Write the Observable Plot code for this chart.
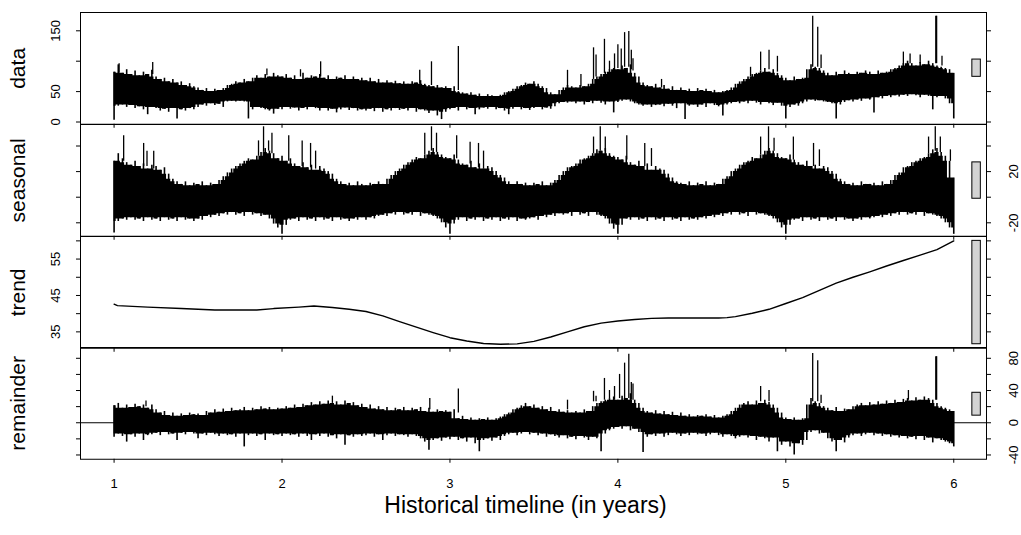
<!DOCTYPE html>
<html><head><meta charset="utf-8">
<script src="https://cdn.jsdelivr.net/npm/d3@7"></script>
<script src="https://cdn.jsdelivr.net/npm/@observablehq/plot@0.6"></script>
<style>
body{margin:0;background:#fff;}
#chart{position:relative;width:1021px;height:535px;overflow:hidden;font-family:"Liberation Sans",Arial,Helvetica,sans-serif;}
#chart svg{position:absolute;left:0;}
</style></head><body><div id="chart"></div>
<script>
// time grid: years 1..6 sampled every 0.025 year (201 samples)
const tStart = 1, tStep = 0.025;
const years = [1, 2, 3, 4, 5, 6];
const xLabel = "Historical timeline (in years)";

// ---- data (observed series): upper / lower envelope per sample ----
const dataHi = [
 82,94,80,86,78,84,76,82,78,85,
 74,70,72,66,70,64,66,60,63,58,
 56,52,55,50,54,52,55,60,62,66,
 64,70,66,72,76,72,78,74,80,76,
 74,78,72,76,70,80,72,76,74,78,
 72,76,70,74,72,76,70,74,70,72,
 68,72,66,70,64,68,64,67,63,66,
 62,66,64,68,62,60,58,60,56,58,
 55,58,50,48,46,48,44,46,42,45,
 43,42,44,48,50,54,58,60,64,62,
 66,62,58,55,48,45,52,56,60,58,
 56,60,58,62,70,74,78,82,86,88,
 86,92,88,94,80,74,64,60,58,62,
 56,60,54,58,52,56,52,54,50,55,
 52,54,50,52,48,50,52,56,62,66,
 70,74,78,80,84,88,82,86,80,76,
 72,68,74,70,72,86,94,90,88,84,
 80,76,82,78,84,80,78,82,80,84,
 82,78,84,80,82,86,88,92,96,100,
 96,92,98,94,100,96,92,90,88,86,
 80];
const dataLo = [
 3,26,28,24,27,22,25,20,12,24,
 22,18,21,16,22,5,20,18,22,20,
 24,28,26,30,27,29,24,33,34,33,
 34,33,5,20,24,22,20,18,13,21,
 20,24,21,23,18,22,20,24,22,18,
 22,18,21,15,20,23,19,22,18,20,
 18,21,17,22,16,20,18,22,19,21,
 18,22,16,20,18,14,18,10,4,16,
 20,22,18,24,20,22,12,20,23,21,
 24,20,22,18,12,21,24,20,22,19,
 22,24,20,23,21,25,30,32,31,33,
 30,33,28,32,30,34,31,28,33,15,
 32,34,36,33,30,28,26,28,24,27,
 28,25,29,26,22,30,4,26,28,24,
 28,24,30,27,25,10,28,30,32,30,
 33,30,34,31,28,32,30,27,31,26,
 5,24,28,26,30,33,36,34,35,33,
 32,30,5,28,32,35,33,36,34,38,
 36,15,40,38,42,40,43,41,44,42,
 45,43,40,44,42,20,40,42,38,30,
 5];
// tall single spikes: [year, from, to]
const dataSpikes = [
 [1.03,80,96],[1.23,78,98],[1.91,76,87],[2.11,74,86],[2.23,74,99],[2.82,62,85],
 [2.89,60,99],[3.05,52,124],[3.70,55,85],[3.78,58,78],[3.855,70,122],[3.87,74,110],
 [3.92,80,136],[3.95,84,100],[3.98,84,112],[4.00,88,127],[4.02,86,120],[4.04,90,147],
 [4.065,90,149],[4.08,86,118],[4.09,84,104],[4.26,56,70],[4.79,74,90],[4.85,84,115],
 [4.90,86,118],[4.95,82,108],[5.16,90,174],[5.19,90,156],[5.21,88,110],[5.70,92,115],
 [5.74,96,112],[5.80,96,110],[5.893,96,174],[5.898,96,174],[5.93,92,108]];

// ---- seasonal ----
const seasonalHi = [
 28,34,30,27,25,28,24,26,22,25,
 24,21,23,18,14,12,10,12,9,11,
 10,12,9,11,10,13,16,19,22,24,
 26,28,30,29,32,35,38,36,34,30,
 32,28,30,26,24,27,23,25,21,24,
 22,20,18,14,12,10,11,9,12,10,
 9,11,10,12,10,14,17,20,22,25,
 27,29,31,30,33,36,38,35,33,31,
 30,33,29,26,25,28,23,26,22,24,
 23,20,17,15,12,10,12,10,11,9,
 11,10,12,9,11,13,17,20,23,24,
 26,29,30,32,34,37,36,38,34,32,
 31,29,32,27,25,28,24,26,21,24,
 22,21,18,15,12,11,10,12,9,11,
 10,12,9,11,10,14,16,20,22,25,
 27,28,31,30,33,36,38,36,34,31,
 30,33,29,27,25,28,24,25,22,24,
 23,20,18,14,12,10,11,9,12,10,
 10,11,9,12,10,13,17,19,23,24,
 27,28,30,31,34,37,38,35,32,28,
 15];
const seasonalLo = [
 -28,-19,-17,-18,-16,-18,-17,-19,-16,-18,
 -17,-19,-16,-18,-17,-19,-16,-18,-17,-19,
 -17,-18,-15,-16,-14,-15,-13,-14,-12,-14,
 -13,-15,-12,-14,-13,-15,-14,-17,-21,-24,
 -29,-22,-18,-17,-19,-16,-18,-17,-19,-16,
 -18,-17,-19,-16,-18,-17,-19,-17,-18,-16,
 -18,-16,-17,-15,-14,-15,-13,-14,-12,-14,
 -13,-14,-12,-15,-13,-14,-15,-17,-20,-24,
 -29,-21,-18,-16,-19,-17,-18,-16,-19,-17,
 -18,-16,-19,-17,-18,-16,-19,-17,-18,-17,
 -16,-18,-15,-16,-14,-15,-13,-14,-13,-15,
 -12,-14,-13,-15,-12,-14,-15,-17,-21,-25,
 -29,-22,-17,-18,-16,-18,-17,-19,-16,-18,
 -17,-19,-16,-18,-17,-19,-16,-18,-17,-18,
 -16,-17,-15,-16,-14,-15,-13,-14,-12,-14,
 -13,-15,-12,-14,-13,-14,-15,-17,-20,-24,
 -29,-22,-18,-17,-19,-16,-18,-17,-19,-16,
 -18,-17,-19,-16,-18,-17,-19,-17,-18,-16,
 -17,-16,-15,-16,-14,-15,-13,-14,-12,-14,
 -13,-14,-12,-15,-13,-14,-15,-17,-20,-24,
 -29];
const seasonalSpikes = [
 [1.057,28,48],[1.176,24,42],[1.196,24,36],[1.236,22,36],[1.86,32,44],[1.89,35,55],
 [1.92,36,44],[1.94,34,50],[2.04,28,48],[2.12,24,44],[2.17,23,42],[2.20,22,36],
 [2.85,33,50],[2.89,36,55],[2.92,35,50],[3.04,30,48],[3.12,26,43],[3.17,23,42],
 [3.20,22,36],[3.855,34,47],[3.895,36,55],[3.925,36,47],[4.053,29,48],[4.16,24,42],
 [4.20,24,38],[4.85,33,47],[4.897,36,55],[4.93,36,46],[5.045,29,47],[5.165,24,42],
 [5.20,24,37],[5.85,34,47],[5.89,36,55],[5.92,35,47],[5.98,28,37]];

// ---- trend ----
const trendT = [1.0,1.02,1.2,1.4,1.6,1.85,1.95,2.1,2.19,2.3,2.4,2.5,2.6,2.7,2.8,2.9,3.0,3.1,3.2,3.3,3.4,
 3.5,3.6,3.7,3.8,3.9,4.0,4.1,4.2,4.3,4.4,4.5,4.6,4.65,4.7,4.8,4.9,5.0,5.1,5.2,5.3,5.4,5.5,5.6,5.7,5.8,5.9,6.0];
const trendV = [42.6,42.2,41.8,41.4,41.0,41.0,41.4,41.8,42.1,41.7,41.2,40.6,39.4,37.8,36.3,34.8,33.4,32.5,31.8,31.6,31.7,
 32.4,33.6,35.0,36.4,37.4,38.0,38.4,38.7,38.8,38.8,38.8,38.8,38.9,39.2,40.1,41.2,42.8,44.4,46.4,48.4,50.0,51.5,53.1,54.6,56.1,57.6,60.0];

// ---- remainder ----
const remainderHi = [
 21,24,18,22,19,23,20,22,18,22,
 16,12,14,9,12,8,11,9,12,10,
 11,9,14,12,16,13,17,14,18,15,
 16,19,15,18,16,20,17,19,16,18,
 17,20,18,22,19,23,21,25,22,26,
 23,27,24,26,22,27,24,25,21,23,
 19,22,17,20,16,19,15,18,16,19,
 15,18,16,19,14,18,13,16,14,15,
 13,16,5,8,4,6,3,5,4,6,
 3,5,7,10,12,16,18,21,24,20,
 22,18,20,16,19,14,16,13,15,12,
 14,12,16,14,20,24,26,28,30,32,
 28,33,30,36,28,24,18,14,12,15,
 11,14,10,13,9,12,8,10,7,9,
 8,10,7,9,6,8,10,14,18,22,
 24,26,22,27,24,28,25,22,18,12,
 6,4,6,3,5,22,30,26,24,20,
 18,15,19,14,17,16,20,22,24,21,
 25,22,26,23,27,24,28,25,29,30,
 27,31,28,32,30,28,24,20,18,16,
 14];
const remainderLo = [
 -18,-14,-17,-24,-15,-18,-14,-22,-16,-15,
 -13,-16,-12,-15,-14,-22,-13,-15,-12,-14,
 -20,-14,-16,-13,-15,-17,-14,-16,-15,-18,
 -14,-30,-16,-14,-17,-15,-22,-14,-16,-15,
 -17,-14,-16,-15,-18,-14,-17,-22,-15,-17,
 -14,-18,-16,-20,-15,-28,-16,-18,-15,-17,
 -16,-14,-18,-15,-22,-16,-14,-17,-15,-16,
 -18,-15,-17,-20,-24,-34,-22,-20,-23,-19,
 -21,-18,-22,-20,-24,-19,-26,-36,-22,-20,
 -23,-19,-22,-17,-15,-13,-16,-14,-12,-15,
 -13,-16,-14,-18,-15,-17,-19,-16,-20,-18,
 -21,-17,-19,-22,-18,-20,-36,-14,-10,-8,
 -6,-8,-5,-10,-8,-12,-37,-18,-15,-17,
 -14,-18,-16,-13,-15,-17,-14,-16,-13,-15,
 -14,-17,-15,-13,-16,-18,-15,-17,-20,-18,
 -16,-19,-17,-22,-18,-20,-24,-19,-36,-28,
 -24,-30,-40,-26,-28,-22,-12,-10,-14,-13,
 -20,-24,-36,-22,-25,-19,-16,-14,-17,-15,
 -13,-16,-14,-17,-15,-18,-16,-19,-17,-20,
 -18,-21,-17,-22,-19,-25,-20,-22,-24,-26,
 -30];
const remainderSpikes = [
 [1.19,20,27],[2.30,24,33],[2.88,16,30],[3.05,12,42],[3.70,16,28],[3.855,26,39],
 [3.87,26,33],[3.92,28,55],[3.95,30,40],[3.98,28,45],[4.01,30,60],[4.04,30,74],
 [4.065,30,85],[4.08,28,50],[4.09,28,48],[4.85,26,45],[4.90,26,40],[5.16,26,86],
 [5.19,26,77],[5.21,24,34],[5.73,28,40],[5.893,28,82],[5.898,28,82]];

// ---------------------------------------------------------------
const band = (hi, lo) => hi.map((h, i) => ({t: tStart + i * tStep, hi: h, lo: lo[i]}));
// solid core of a band: the envelope that the neighbouring samples share
const coreOf = rows => rows.map((d, i) => {
  const w = rows.slice(Math.max(0, i - 1), i + 2);
  return {t: d.t, hi: d3.min(w, r => r.hi), lo: d3.max(w, r => r.lo)};
});
const trend = trendT.map((t, i) => ({t, v: trendV[i]}));

const xDomain = [0.8, 6.195];
const font = '"Liberation Sans", Arial, Helvetica, sans-serif';

const comps = [
  {name: "data", top: 12, domain: [-3.7, 180.1], ticks: [0, 50, 100, 150], labels: [0, 50, 150], side: "left",
   rows: band(dataHi, dataLo), spikes: dataSpikes},
  {name: "seasonal", top: 123.75, domain: [-30.5, 56.8], ticks: [-20, 0, 20, 40], labels: [-20, 20], side: "right",
   rows: band(seasonalHi, seasonalLo), spikes: seasonalSpikes},
  {name: "trend", top: 235.5, domain: [30.5, 61.2], ticks: [35, 40, 45, 50, 55, 60], labels: [35, 45, 55], side: "left",
   line: trend},
  {name: "remainder", top: 347.25, domain: [-45.3, 93.4], ticks: [-40, -20, 0, 20, 40, 60, 80], labels: [-40, 0, 40, 80], side: "right",
   rows: band(remainderHi, remainderLo), spikes: remainderSpikes, zero: true}
];

// data range of each component (for the R-style range bars)
for (const c of comps) {
  const vals = c.line ? c.line.map(d => d.v)
    : [...c.rows.flatMap(d => [d.hi, d.lo]), ...c.spikes.flatMap(s => [s[1], s[2]])];
  c.range = d3.extent(vals);
}
const mx = d3.min(comps, c => c.range[1] - c.range[0]);
const dxBar = (xDomain[1] - xDomain[0]) / 64;

const panelH = 111.75;
const chart = document.getElementById("chart");

comps.forEach((c, i) => {
  const last = i === comps.length - 1;
  const mt = 8, mb = last ? 80 : 8;
  const center = (c.range[0] + c.range[1]) / 2;
  const marks = [];
  if (c.zero) marks.push(Plot.ruleY([0], {stroke: "black", strokeWidth: 1}));
  if (c.rows) {
    marks.push(Plot.areaY(coreOf(c.rows), {x: "t", y1: "lo", y2: "hi", fill: "black", curve: "step"}));
    marks.push(Plot.ruleX(c.rows, {x: "t", y1: "lo", y2: "hi", stroke: "black", strokeWidth: 1.6}));
    marks.push(Plot.ruleX(c.spikes, {x: d => d[0], y1: d => d[1], y2: d => d[2], stroke: "black", strokeWidth: 1.3}));
  }
  if (c.line) marks.push(Plot.line(c.line, {x: "t", y: "v", stroke: "black", strokeWidth: 1.4}));
  // range bar
  marks.push(Plot.rect([{x1: xDomain[1] - dxBar, x2: xDomain[1] - 0.4 * dxBar, y1: center - mx / 2, y2: center + mx / 2}],
    {x1: "x1", x2: "x2", y1: "y1", y2: "y2", fill: "#d3d3d3", stroke: "black", strokeWidth: 1}));
  // axes ticks on both sides, labels on one side
  marks.push(Plot.axisY({anchor: "left", ticks: c.ticks, tickSize: 4, tickFormat: () => "", label: null}));
  marks.push(Plot.axisY({anchor: "right", ticks: c.ticks, tickSize: 4, tickFormat: () => "", label: null}));
  marks.push(Plot.text(c.labels, {y: d => d, text: d => String(d), frameAnchor: c.side, dx: c.side === "left" ? -25 : 27,
    rotate: -90, fontSize: 13, textAnchor: "middle", lineAnchor: "middle", fill: "black"}));
  marks.push(Plot.axisX({anchor: "bottom", ticks: years, tickSize: 4, tickFormat: () => "", label: null}));
  if (last) {
    marks.push(Plot.text(years, {x: d => d, text: d => String(d), frameAnchor: "bottom", dy: 25, fontSize: 13, lineAnchor: "middle", fill: "black"}));
    marks.push(Plot.text([xLabel], {frameAnchor: "bottom", dx: -8, dy: 46, fontSize: 23, lineAnchor: "middle", fill: "black"}));
  }
  // component name
  marks.push(Plot.text([c.name], {frameAnchor: "left", dx: -62, rotate: -90, fontSize: 21, textAnchor: "middle", lineAnchor: "middle", fill: "black"}));
  marks.push(Plot.frame({stroke: "black", strokeWidth: 1}));

  const svg = Plot.plot({
    width: 1021, height: panelH + mt + mb,
    marginLeft: 80, marginRight: 35, marginTop: mt, marginBottom: mb,
    x: {domain: xDomain, axis: null},
    y: {domain: c.domain, axis: null},
    style: {fontFamily: font, background: "transparent", overflow: "visible", color: "black"},
    marks
  });
  svg.style.top = (c.top - mt) + "px";
  chart.appendChild(svg);
});
</script></body></html>
